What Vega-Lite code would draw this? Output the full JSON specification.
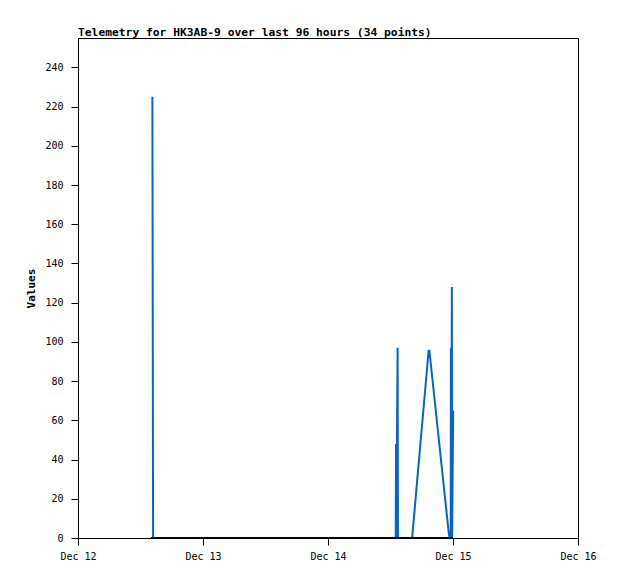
{
  "$schema": "https://vega.github.io/schema/vega-lite/v6.json",
  "autosize": "none",
  "width": 500,
  "height": 500,
  "padding": {"left": 78, "top": 38, "right": 40, "bottom": 41},
  "background": "white",
  "config": {
    "view": {"stroke": "#000000", "strokeWidth": 1},
    "font": "DejaVu Sans Mono"
  },
  "title": {
    "text": "Telemetry for HK3AB-9 over last 96 hours (34 points)",
    "anchor": "start",
    "frame": "group",
    "font": "DejaVu Sans Mono",
    "fontSize": 11.3,
    "fontWeight": "bold",
    "color": "#000000",
    "offset": 0
  },
  "data": {
    "values": [
      {"series": "telemetry", "time": "2024-12-12T14:17:00Z", "value": 225},
      {"series": "telemetry", "time": "2024-12-12T14:25:00Z", "value": 0},
      {"series": "telemetry", "time": "2024-12-12T20:00:00Z", "value": 0},
      {"series": "telemetry", "time": "2024-12-13T04:00:00Z", "value": 0},
      {"series": "telemetry", "time": "2024-12-13T12:00:00Z", "value": 0},
      {"series": "telemetry", "time": "2024-12-13T20:00:00Z", "value": 0},
      {"series": "telemetry", "time": "2024-12-14T04:00:00Z", "value": 0},
      {"series": "telemetry", "time": "2024-12-14T13:00:00Z", "value": 0},
      {"series": "telemetry", "time": "2024-12-14T13:04:00Z", "value": 48},
      {"series": "telemetry", "time": "2024-12-14T13:06:00Z", "value": 0},
      {"series": "telemetry", "time": "2024-12-14T13:22:00Z", "value": 97},
      {"series": "telemetry", "time": "2024-12-14T13:26:00Z", "value": 0},
      {"series": "telemetry", "time": "2024-12-14T16:09:00Z", "value": 0},
      {"series": "telemetry", "time": "2024-12-14T19:20:00Z", "value": 96},
      {"series": "telemetry", "time": "2024-12-14T19:23:00Z", "value": 93},
      {"series": "telemetry", "time": "2024-12-14T19:27:00Z", "value": 96},
      {"series": "telemetry", "time": "2024-12-14T23:10:00Z", "value": 3},
      {"series": "telemetry", "time": "2024-12-14T23:20:00Z", "value": 0},
      {"series": "telemetry", "time": "2024-12-14T23:34:00Z", "value": 0},
      {"series": "telemetry", "time": "2024-12-14T23:36:00Z", "value": 97},
      {"series": "telemetry", "time": "2024-12-14T23:40:00Z", "value": 0},
      {"series": "telemetry", "time": "2024-12-14T23:47:00Z", "value": 128},
      {"series": "telemetry", "time": "2024-12-14T23:50:00Z", "value": 0},
      {"series": "telemetry", "time": "2024-12-15T00:02:00Z", "value": 65},
      {"series": "zero", "time": "2024-12-12T14:00:00Z", "value": 0},
      {"series": "zero", "time": "2024-12-15T00:00:00Z", "value": 0}
    ]
  },
  "encoding": {
    "x": {
      "field": "time",
      "type": "temporal",
      "scale": {
        "type": "utc",
        "domain": [
          {"year": 2024, "month": 12, "date": 12, "utc": true},
          {"year": 2024, "month": 12, "date": 16, "utc": true}
        ],
        "nice": false
      },
      "axis": {
        "title": null,
        "values": [
          {"year": 2024, "month": 12, "date": 12, "utc": true},
          {"year": 2024, "month": 12, "date": 13, "utc": true},
          {"year": 2024, "month": 12, "date": 14, "utc": true},
          {"year": 2024, "month": 12, "date": 15, "utc": true},
          {"year": 2024, "month": 12, "date": 16, "utc": true}
        ],
        "labelExpr": "utcFormat(datum.value, '%b %d')",
        "grid": false,
        "domainColor": "#000000",
        "tickColor": "#000000",
        "tickSize": 7,
        "labelPadding": 6,
        "labelFont": "DejaVu Sans Mono",
        "labelFontSize": 10,
        "labelColor": "#000000",
        "labelFlush": false,
        "labelOverlap": false,
        "zindex": 1
      }
    },
    "y": {
      "field": "value",
      "type": "quantitative",
      "scale": {"domain": [0, 255], "nice": false, "zero": true},
      "axis": {
        "title": "Values",
        "values": [0, 20, 40, 60, 80, 100, 120, 140, 160, 180, 200, 220, 240],
        "grid": false,
        "domainColor": "#000000",
        "tickColor": "#000000",
        "tickSize": 7,
        "labelPadding": 8,
        "labelFont": "DejaVu Sans Mono",
        "labelFontSize": 10,
        "labelColor": "#000000",
        "titleFont": "DejaVu Sans Mono",
        "titleFontSize": 11,
        "titleFontWeight": "bold",
        "titleColor": "#000000",
        "titlePadding": 8,
        "zindex": 1
      }
    }
  },
  "layer": [
    {
      "transform": [{"filter": "datum.series === 'telemetry'"}],
      "mark": {"type": "line", "color": "#0066cc", "strokeWidth": 2, "interpolate": "linear"}
    },
    {
      "transform": [{"filter": "datum.series === 'zero'"}],
      "mark": {"type": "line", "color": "#000000", "strokeWidth": 2}
    }
  ]
}
